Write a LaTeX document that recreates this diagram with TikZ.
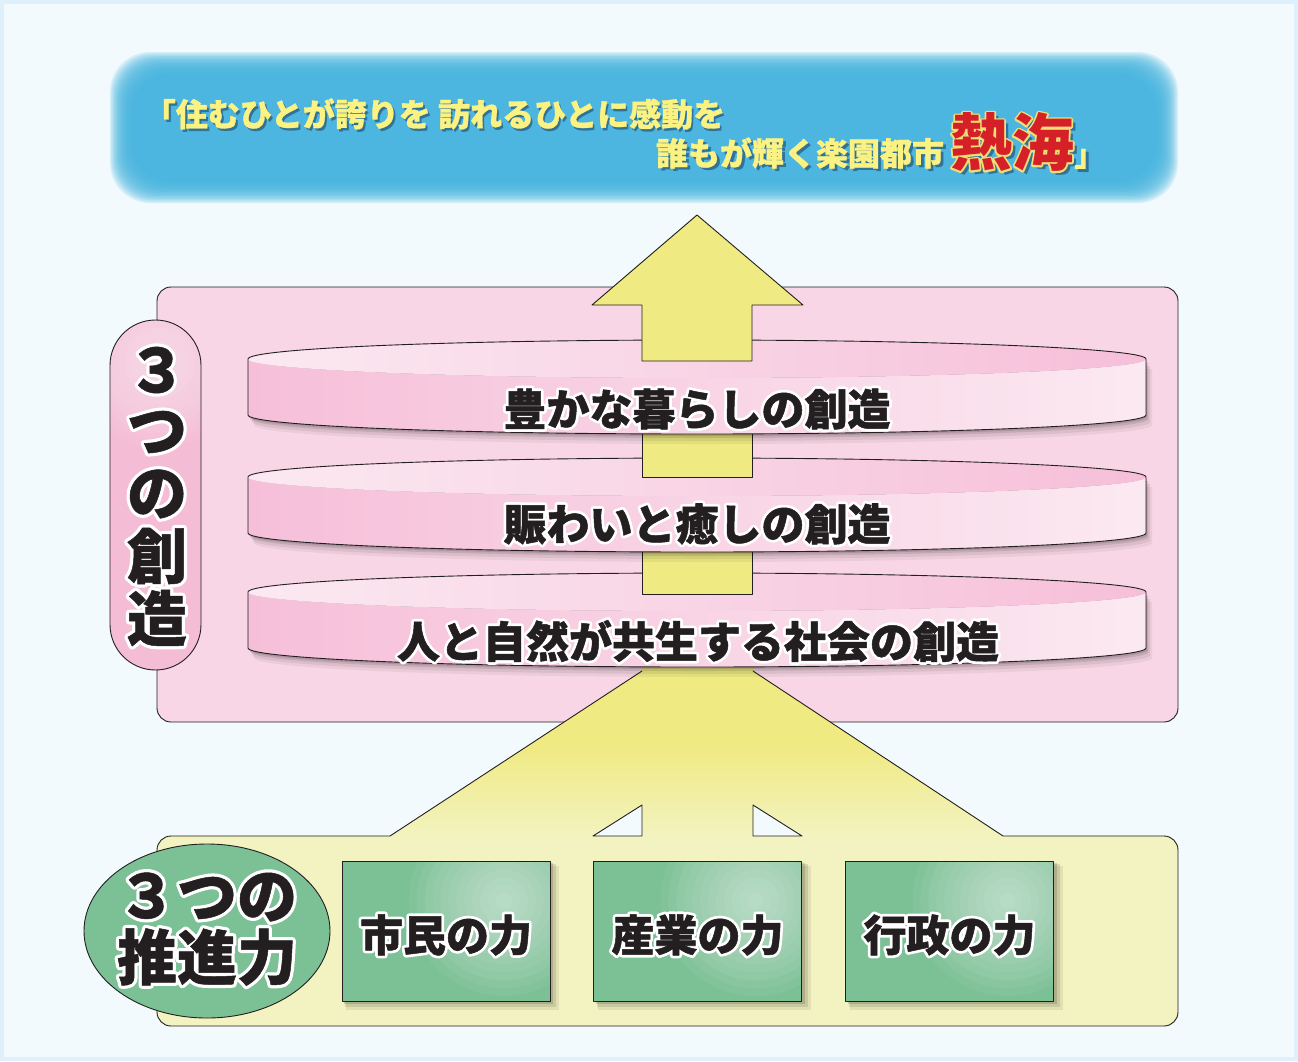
\documentclass[tikz,border=0pt]{standalone}
\usepackage{fontspec}
\newfontfamily\jp{Noto Sans CJK JP}
\usetikzlibrary{calc,shapes.geometric}
\definecolor{bgOuter}{RGB}{222,240,252}
\definecolor{bgInner}{RGB}{242,250,254}
\definecolor{bannerBlue}{RGB}{72,182,224}
\definecolor{shadowBlue}{RGB}{20,50,80}
\definecolor{txtYellow}{RGB}{252,242,130}
\definecolor{panelPink}{RGB}{249,214,229}
\definecolor{pillPink}{RGB}{245,188,214}
\definecolor{diskLight}{RGB}{251,233,241}
\definecolor{diskPink}{RGB}{246,191,217}
\definecolor{arrowYellow}{RGB}{240,234,131}
\definecolor{paleYellow}{RGB}{242,243,193}
\definecolor{gGreen}{RGB}{124,192,150}
\definecolor{atamiRed}{RGB}{214,32,40}
\definecolor{atamiEdge}{RGB}{240,222,120}
\definecolor{ink}{RGB}{35,31,32}
\newcommand\fban{\jp\bfseries\fontsize{32}{32}\selectfont}
\newcommand\fatami{\jp\bfseries\fontsize{62}{62}\selectfont}
\newcommand\fdisk{\jp\bfseries\fontsize{43}{43}\selectfont}
\newcommand\fvert{\jp\bfseries\fontsize{60}{60}\selectfont}
\newcommand\fgreen{\jp\bfseries\fontsize{43}{43}\selectfont}
% stroked text (outline drawn by the PDF text render mode)
\newcommand\strk[2]{\special{pdf:literal direct 2 Tr #1 w 1 j}#2\special{pdf:literal direct 0 Tr}}
% outlined text: name, coord, font, outline colour, fill colour, text, outline width
\newcommand\olbl[7]{%
  \node[text=#4,font=#3,inner sep=0pt] at (#2) {\strk{#7}{#6}};%
  \node[text=#5,font=#3,inner sep=0pt] (#1) at (#2) {\strk{0.5}{#6}};}
% soft white glow: centre, max radius
\newcommand\glow[2]{\foreach \r in {1,...,12}{\fill[white,opacity=0.055] (#1) circle ({#2*\r/12});}}
% disk: y of top ellipse centre
\newcommand\diskat[1]{%
  \foreach \k/\o in {10/0.05,7/0.07,4/0.10,2/0.12}{%
    \fill[black,opacity=\o] (248+\k*0.6,#1+\k) -- (248+\k*0.6,#1+56+\k) arc[start angle=180,end angle=360,x radius=449pt,y radius=19pt] -- (1146+\k*0.6,#1+\k) -- cycle;}%
  \path[left color=diskPink,right color=diskLight] (248,#1) -- (248,#1+56) arc[start angle=180,end angle=360,x radius=449pt,y radius=19pt] -- (1146,#1) arc[start angle=0,end angle=-180,x radius=449pt,y radius=19pt] -- cycle;%
  \path[left color=diskLight,right color=diskPink] (697,#1) ellipse[x radius=449pt,y radius=19pt];%
  \draw[inkline] (1146,#1) arc[start angle=0,end angle=180,x radius=449pt,y radius=19pt] -- (248,#1+56) arc[start angle=180,end angle=360,x radius=449pt,y radius=19pt] -- cycle;}
\begin{document}
\begin{tikzpicture}[x=1pt,y=-1pt]
\tikzset{inkline/.style={draw=ink,line width=0.9pt,line join=round},
  greenbox/.style={inkline,fill=gGreen,minimum width=208pt,minimum height=140pt,inner sep=0pt,
    path picture={\glow{$(path picture bounding box.center)+(58,-30)$}{95}}}}
\useasboundingbox (0,0) rectangle (1298,1061);
% background
\fill[bgOuter] (0,0) rectangle (1298,1061);
\fill[bgInner] (4,4) rectangle (1294,1057);
% banner
\foreach \i in {0,...,15}{\fill[bannerBlue,opacity=0.17,rounded corners=40pt] (110+1.4*\i,52+1.4*\i) rectangle (1178-1.4*\i,203-1.4*\i);}
\coordinate (banner) at (644,128);
\node[text=shadowBlue,opacity=0.5,font=\fban,inner sep=0pt] at (437,117) {「住むひとが誇りを 訪れるひとに感動を};
\node[text=txtYellow,font=\fban,inner sep=0pt] (mot1) at (434.5,114) {\strk{0.3}{「住むひとが誇りを 訪れるひとに感動を}};
\node[text=shadowBlue,opacity=0.5,font=\fban,inner sep=0pt] at (803,156) {誰もが輝く楽園都市};
\node[text=txtYellow,font=\fban,inner sep=0pt] (mot2) at (800,153) {\strk{0.3}{誰もが輝く楽園都市}};
\node[text=shadowBlue,opacity=0.5,font=\fatami,inner sep=0pt] at (1016,146) {熱海};
\node[text=atamiEdge,font=\fatami,inner sep=0pt] at (1012,142) {\strk{3.5}{熱海}};
\node[text=atamiRed,font=\fatami,inner sep=0pt] (atami) at (1012,142) {熱海};
\node[text=shadowBlue,opacity=0.5,font=\fban,inner sep=0pt] at (1093,162) {」};
\node[text=txtYellow,font=\fban,inner sep=0pt] (mot3) at (1090,159) {」};
% panels
\filldraw[inkline,fill=panelPink,rounded corners=14pt] (157,287) rectangle (1178,722);
\filldraw[inkline,fill=paleYellow,rounded corners=14pt] (157,836) rectangle (1178,1026);
% merging arrow from the three forces
\path[top color=arrowYellow,bottom color=paleYellow,middle color=arrowYellow] (642,655) -- (642,671) -- (390,836) -- (390,837.6) -- (1003,837.6) -- (1003,836) -- (753,671) -- (753,655) -- cycle;
\draw[inkline] (642,671) -- (390,836);
\draw[inkline] (753,671) -- (1003,836);
\filldraw[inkline,fill=bgInner] (642,805) -- (642,836) -- (593,836) -- cycle;
\filldraw[inkline,fill=bgInner] (753,805) -- (753,836) -- (802,836) -- cycle;
% pill label
\filldraw[inkline,fill=pillPink,rounded corners=45.5pt,
  path picture={\glow{160,362}{85}}] (110,320) rectangle (201,670);
% disks and shaft pieces (bottom first)
\diskat{592}
\filldraw[inkline,fill=arrowYellow] (642,540) rectangle (752,594);
\diskat{477}
\filldraw[inkline,fill=arrowYellow] (642,425) rectangle (752,477);
\diskat{359}
\filldraw[inkline,fill=arrowYellow] (697,215) -- (803,305) -- (752,305) -- (752,361) -- (642,361) -- (642,305) -- (592,305) -- cycle;
% disk texts
\olbl{c1}{697,409}{\fdisk}{white}{ink}{豊かな暮らしの創造}{6}
\olbl{c2}{697,524}{\fdisk}{white}{ink}{賑わいと癒しの創造}{6}
\olbl{c3}{698,641}{\fdisk}{white}{ink}{人と自然が共生する社会の創造}{6}
% vertical label
\olbl{v1}{157,370}{\fvert}{white}{ink}{３}{7}
\olbl{v2}{157,432}{\fvert}{white}{ink}{つ}{7}
\olbl{v3}{157,494}{\fvert}{white}{ink}{の}{7}
\olbl{v4}{157,556}{\fvert}{white}{ink}{創}{7}
\olbl{v5}{157,618}{\fvert}{white}{ink}{造}{7}
% three forces
\node[ellipse,inkline,fill=gGreen,minimum width=246pt,minimum height=174pt,inner sep=0pt,
  path picture={\glow{266,880}{105}}] (forces) at (207,931) {};
\foreach \bx/\nm in {446/b1,697.5/b2,949.5/b3}{
  \fill[black!70!olive,opacity=0.10] (\bx-100,866) rectangle (\bx+113,1010);
  \fill[black!70!olive,opacity=0.14] (\bx-101,864) rectangle (\bx+110,1007);
  \fill[black!70!olive,opacity=0.2] (\bx-102,863) rectangle (\bx+107,1004);
  \node[greenbox] (\nm) at (\bx,931) {};}
\olbl{f1}{207,897}{\fvert}{white}{ink}{３つの}{7}
\olbl{f2}{207,957}{\fvert}{white}{ink}{推進力}{7}
\olbl{t1}{446,935}{\fgreen}{white}{ink}{市民の力}{6}
\olbl{t2}{697.5,935}{\fgreen}{white}{ink}{産業の力}{6}
\olbl{t3}{949.5,935}{\fgreen}{white}{ink}{行政の力}{6}
\end{tikzpicture}
\end{document}
